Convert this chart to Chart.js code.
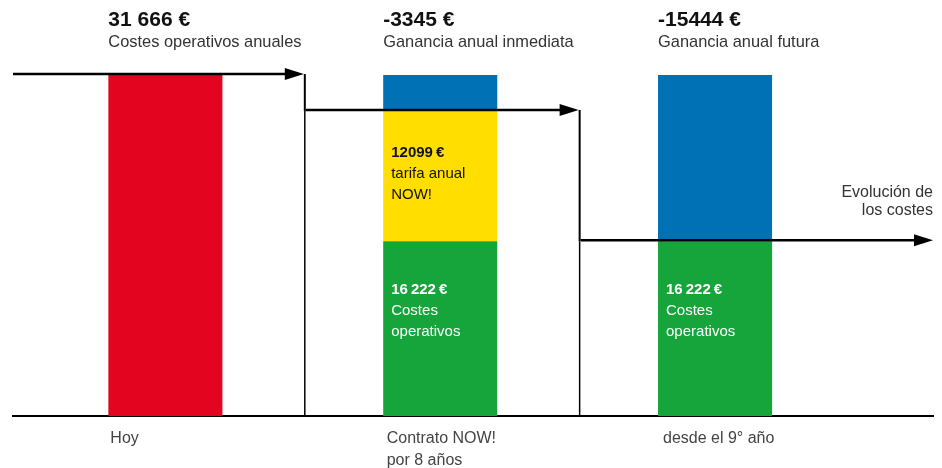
<!DOCTYPE html>
<html>
<head>
<meta charset="utf-8">
<script src="https://cdn.jsdelivr.net/npm/chart.js@4.4.1/dist/chart.umd.min.js"></script>
<style>
  html, body { margin: 0; padding: 0; background: #fff; }
</style>
</head>
<body>
<canvas id="myChart" width="942" height="468"></canvas>
<script>
// data
const positions = [0, 1, 2];
const bottomLabels = [['Hoy'], ['Contrato NOW!', 'por 8 años'], ['desde el 9° año']];
const headValues = ['31 666 €', '-3345 €', '-15444 €'];
const headTitles = ['Costes operativos anuales', 'Ganancia anual inmediata', 'Ganancia anual futura'];

const costesHoy = [31666, null, null];
const costesOperativos = [null, 16222, 16222];
const tarifaNow = [null, 12099, null];
const ganancia = [null, 3345, 15444];

const costesLabel = ['16\u2009222\u2009€', 'Costes', 'operativos'];
const tarifaLabel = ['12099\u2009€', 'tarifa anual', 'NOW!'];
const evolucionLabel = ['Evolución de', 'los costes'];

const FONT = "'Liberation Sans', Arial, Helvetica, sans-serif";

function points(arr) {
  return positions.map((p, i) => ({ x: p, y: arr[i] })).filter(d => d.y !== null);
}

// cost level after each step (what the arrows follow)
const levels = positions.map((p, i) => (costesHoy[i] || 0) + (costesOperativos[i] || 0) + (tarifaNow[i] || 0));

const arrowPlugin = {
  id: 'arrows',
  afterDraw(chart) {
    const ctx = chart.ctx;
    const xs = chart.scales.x, ys = chart.scales.y;
    const bw = chart.getDatasetMeta(0).data[0].width;
    const left = i => xs.getPixelForValue(positions[i]) - bw / 2;

    ctx.save();
    ctx.strokeStyle = '#000';
    ctx.fillStyle = '#000';

    // risers between the columns
    for (let i = 0; i < positions.length - 1; i++) {
      const bx = xs.getPixelForValue(positions[i] + 0.5) + 2;
      ctx.lineWidth = 2;
      ctx.beginPath();
      ctx.moveTo(bx, ys.getPixelForValue(levels[i]) - 1);
      ctx.lineTo(bx, ys.getPixelForValue(levels[i + 1]));
      ctx.stroke();
      ctx.lineWidth = 1.5;
      ctx.beginPath();
      ctx.moveTo(bx, ys.getPixelForValue(levels[i + 1]));
      ctx.lineTo(bx, ys.getPixelForValue(0));
      ctx.stroke();
    }

    // arrows
    for (let i = 0; i < positions.length; i++) {
      const x0 = i === 0 ? xs.min : positions[i] - 0.5;
      const x1 = i === positions.length - 1 ? xs.max : positions[i] + 0.5;
      const px0 = xs.getPixelForValue(x0) + (i === 0 ? 0 : 3);
      const px1 = xs.getPixelForValue(x1) + (i === positions.length - 1 ? 0 : 1);
      const py = ys.getPixelForValue(levels[i]) - 1;
      ctx.lineWidth = 2.5;
      ctx.beginPath();
      ctx.moveTo(px0, py);
      ctx.lineTo(px1 - 16, py);
      ctx.stroke();
      ctx.beginPath();
      ctx.moveTo(px1, py);
      ctx.lineTo(px1 - 19, py - 6);
      ctx.lineTo(px1 - 19, py + 6);
      ctx.closePath();
      ctx.fill();
    }

    // texts
    ctx.textAlign = 'left';
    ctx.textBaseline = 'alphabetic';
    for (let i = 0; i < positions.length; i++) {
      const lx = left(i);
      ctx.fillStyle = '#111';
      ctx.font = 'bold 21px ' + FONT;
      ctx.fillText(headValues[i], lx, ys.top - 49);
      ctx.fillStyle = '#333';
      ctx.font = '16.4px ' + FONT;
      ctx.fillText(headTitles[i], lx, ys.top - 28);

      ctx.fillStyle = '#444';
      ctx.font = '16px ' + FONT;
      bottomLabels[i].forEach((t, k) => ctx.fillText(t, lx + 2 + i * 1.5, ys.bottom + 27 + k * 22));

      if (tarifaNow[i] !== null) {
        const top = ys.getPixelForValue(levels[i]);
        ctx.fillStyle = '#111';
        tarifaLabel.forEach((t, k) => {
          ctx.font = (k === 0 ? 'bold 15px ' : '15px ') + FONT;
          ctx.fillText(t, lx + 8, top + 46 + k * 21);
        });
      }
      if (costesOperativos[i] !== null) {
        const top = ys.getPixelForValue(costesOperativos[i]);
        ctx.fillStyle = '#fff';
        costesLabel.forEach((t, k) => {
          ctx.font = (k === 0 ? 'bold 15px ' : '15px ') + FONT;
          ctx.fillText(t, lx + 8, top + 53 + k * 21);
        });
      }
    }

    // axis note
    ctx.fillStyle = '#333';
    ctx.font = '16px ' + FONT;
    ctx.textAlign = 'right';
    const ly = ys.getPixelForValue(levels[levels.length - 1]);
    evolucionLabel.forEach((t, k) => ctx.fillText(t, xs.right, ly - 44 + k * 18));
    ctx.restore();
  }
};

const config = {
  type: 'bar',
  data: {
    datasets: [
      { label: 'Costes hoy', data: points(costesHoy), backgroundColor: '#e30520' },
      { label: 'Costes operativos', data: points(costesOperativos), backgroundColor: '#16a53b' },
      { label: 'Tarifa NOW', data: points(tarifaNow), backgroundColor: '#ffde00' },
      { label: 'Ganancia', data: points(ganancia), backgroundColor: '#0071b5' }
    ]
  },
  options: {
    responsive: false,
    animation: false,
    layout: { padding: { left: 13, right: 9, top: 75, bottom: 52 } },
    categoryPercentage: 1,
    barPercentage: 0.415,
    plugins: { legend: { display: false }, tooltip: { enabled: false } },
    scales: {
      x: {
        type: 'linear',
        stacked: true,
        offset: false,
        min: -0.5545,
        max: 2.793,
        afterBuildTicks: scale => { scale.ticks = positions.map(v => ({ value: v })); },
        ticks: { display: false },
        grid: { display: false, drawTicks: false },
        border: { display: true, color: '#000', width: 2 }
      },
      y: {
        stacked: true,
        display: false,
        min: 0,
        max: levels[0]
      }
    }
  },
  plugins: [arrowPlugin]
};

new Chart(document.getElementById('myChart'), config);
</script>
</body>
</html>
